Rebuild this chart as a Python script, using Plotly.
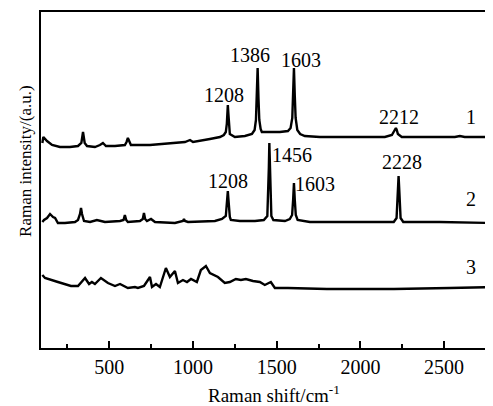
import plotly.graph_objects as go

# ---- data ----
s1_shift = [100, 106, 128, 158, 205, 265, 313, 333, 343, 353, 367, 414, 444, 462, 480, 534, 593, 603, 611, 619, 629,
            743, 862, 952, 982, 1000, 1101, 1161, 1184, 1196, 1202, 1205, 1208, 1211, 1214, 1220, 1250, 1310, 1352,
            1368, 1376, 1381, 1386, 1391, 1396, 1404, 1411, 1459, 1519, 1567, 1583, 1593, 1598, 1603, 1608, 1613,
            1623, 1640, 1668, 1758, 1937, 2146, 2188, 2200, 2207, 2212, 2217, 2224, 2247, 2474, 2564, 2594, 2623, 2790]
s1_int = [205, 211, 207, 203, 201, 201, 202, 205, 216, 205, 202, 201, 203, 205, 202, 202, 203, 206, 210, 206, 203,
          203, 205, 206, 208, 206, 209, 211, 213, 216, 224, 235, 243, 235, 224, 214, 211, 212, 214,
          218, 228, 250, 280, 250, 228, 219, 216, 216, 216, 217, 220, 230, 252, 280, 252, 230,
          218, 214, 212, 211, 211, 211, 213, 216, 219, 220, 218, 214, 211, 211, 211, 212, 211, 211]

s2_shift = [100, 110, 128, 146, 164, 176, 193, 235, 295, 313, 325, 331, 337, 349, 385, 426, 474, 564, 585, 593, 601,
            611, 683, 700, 707, 714, 725, 749, 773, 892, 940, 946, 952, 970, 1131, 1173, 1196, 1202, 1205, 1208,
            1211, 1214, 1220, 1226, 1280, 1370, 1423, 1444, 1450, 1453, 1456, 1459, 1462, 1468, 1480, 1549, 1578,
            1592, 1598, 1603, 1608, 1614, 1625, 1698, 1937, 2199, 2216, 2222, 2225, 2228, 2231, 2234, 2240, 2256,
            2474, 2790]
s2_int = [126, 128, 130, 134, 131, 130, 125, 125, 126, 128, 134, 140, 134, 127, 126, 128, 126, 127, 128, 133, 128,
          126, 127, 129, 135, 129, 127, 129, 126, 125, 127, 129, 127, 126, 127, 129, 132, 142, 150, 157,
          150, 142, 131, 128, 127, 127, 128, 132, 155, 180, 205, 180, 155, 132, 128, 127, 129,
          133, 148, 165, 148, 133, 128, 126, 126, 126, 130, 148, 162, 172, 162, 148, 130, 126,
          126, 125]

s3_shift = [100, 116, 193, 271, 313, 355, 379, 396, 414, 450, 492, 534, 564, 611, 653, 671, 707, 743, 755, 779, 802,
            838, 862, 892, 910, 940, 964, 988, 1023, 1047, 1077, 1101, 1149, 1190, 1220, 1256, 1286, 1316, 1358,
            1399, 1429, 1465, 1489, 1567, 1800, 2200, 2534, 2790]
s3_int = [73, 70, 66, 62, 62, 70, 64, 66, 64, 70, 65, 62, 64, 60, 61, 60, 62, 71, 61, 64, 61,
          80, 71, 77, 65, 68, 66, 69, 66, 78, 82, 75, 71, 65, 66, 69, 68, 69, 67,
          66, 63, 66, 60, 60, 59, 59, 60, 61]

peak_text = ["1208", "1386", "1603", "2212", "1208", "1456", "1603", "2228", "1", "2", "3"]
peak_x = [1185, 1340, 1644, 2229, 1208, 1590, 1728, 2247, 2659, 2659, 2659]
peak_y = [253, 293, 288, 231, 167, 193, 164, 186, 231, 149, 81]

x_major = [500, 1000, 1500, 2000, 2500]

FONT = "Liberation Serif"

fig = go.Figure()
for xs, ys in [(s1_shift, s1_int), (s2_shift, s2_int), (s3_shift, s3_int)]:
    fig.add_trace(go.Scatter(x=xs, y=ys, mode="lines",
                             line=dict(color="black", width=2.4),
                             showlegend=False, hoverinfo="skip"))

for t, x, y in zip(peak_text, peak_x, peak_y):
    fig.add_annotation(x=x, y=y, xref="x", yref="y", text=t, showarrow=False,
                       font=dict(family=FONT, size=20, color="black"),
                       xanchor="center", yanchor="middle")

fig.add_annotation(x=0.515, y=-0.138, xref="paper", yref="paper",
                   text="Raman shift/cm<sup>-1</sup>", showarrow=False,
                   font=dict(family=FONT, size=19, color="black"),
                   xanchor="center", yanchor="middle")
fig.add_annotation(x=-0.036, y=0.556, xref="paper", yref="paper",
                   text="Raman intensity/(a.u.)", showarrow=False, textangle=-90,
                   font=dict(family=FONT, size=17, color="black"),
                   xanchor="center", yanchor="middle")

# the page places the figure 8px from the top-left corner
fig.update_layout(
    width=485, height=398,
    margin=dict(l=33, r=0, t=4, b=58),
    paper_bgcolor="white", plot_bgcolor="white",
    font=dict(family=FONT, size=19, color="black"),
    xaxis=dict(range=[92, 2792], showgrid=False, zeroline=False,
               showline=True, linecolor="black", linewidth=2, mirror=True,
               ticks="inside", ticklen=7, tickwidth=2, tickcolor="black",
               tickvals=x_major, ticktext=[str(v) for v in x_major],
               tickfont=dict(family=FONT, size=20, color="black"),
               minor=dict(tickvals=[250, 750, 1250, 1750, 2250, 2750], ticks="inside",
                          ticklen=4, tickwidth=2, tickcolor="black")),
    yaxis=dict(range=[0, 336], showgrid=False, zeroline=False,
               showline=True, linecolor="black", linewidth=2, mirror=False,
               showticklabels=False, ticks=""),
)

fig.write_html("out.html")
